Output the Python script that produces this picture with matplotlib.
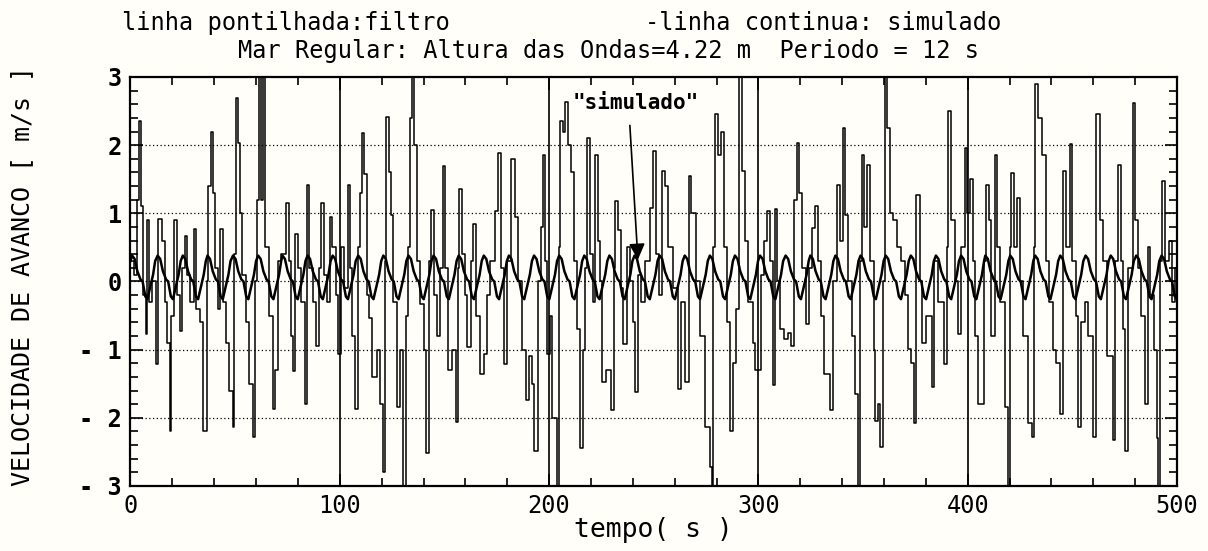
import matplotlib
matplotlib.use("Agg")
import matplotlib.pyplot as plt
from matplotlib.ticker import MultipleLocator

plt.rcParams['axes.unicode_minus'] = False

# "filtro" curve (dotted in the original), vertices
filtro_t = [
    0, 1.5, 3, 4.2, 5, 6, 7.5, 8, 9, 10.5,
    12.3, 13.2, 15, 16.5, 17.5, 18.8, 19.5, 20.8, 22, 23.5,
    24.5, 26, 27, 28.5, 30.5, 31.5, 33, 34.5, 36.5, 37,
    38.7, 39.3, 40.5, 42, 43, 44, 45.5, 47, 48.8, 49.5,
    50.5, 51.5, 52.5, 53.5, 55, 56.5, 58.5, 59.5, 60.5, 61.5,
    62.5, 63.5, 64.5, 66, 68, 69, 70.5, 72, 74.5, 75.5,
    76.5, 77.8, 78.5, 80, 81.5, 83.2, 84.5, 85.5, 87, 88.8,
    90, 91.2, 92.5, 94, 95.5, 96.5, 98, 99.2,
    100.5, 102, 104, 105, 106, 107.2, 108.5, 109.5, 110.4, 111.5,
    113, 114, 115.5, 118, 119, 120.5, 121.5, 122.3, 123.5, 124.5,
    125.5, 127.5, 129, 130.3, 131.5, 132.8, 133.6, 134.4, 135.3, 137,
    138.5, 140, 141.3, 142.5, 143.8, 145, 146.5, 148, 149.4, 150.5,
    151.8, 153.5, 155.3, 156.5, 157, 158.5, 160, 161, 162.5, 163.5,
    165, 167, 169, 170.5, 172, 174, 175.8, 177, 178.5, 180,
    182, 183.5, 185, 187, 189, 190.5, 192, 193, 194.5, 196,
    197, 198, 199,
    200.5, 201.5, 203.7, 204.5, 205.2, 206.5, 207.7, 209, 210.5, 212,
    213.5, 214.8, 216, 217.2, 218, 219.5, 221, 222, 223.5, 224.5,
    225.5, 227, 229.8, 231, 231.5, 233, 234.5, 235.5, 237, 238.5,
    240, 241.1, 242.5, 244, 246, 248, 249.8, 251, 252.5, 254,
    255.5, 257, 259, 261.8, 263, 265, 266.6, 268, 270, 272,
    274.5, 277, 277.7, 278.5, 279.3, 280.5, 282, 283.5, 285, 286.5,
    288, 289.5, 290.5, 292, 293.5, 295, 297.5, 298.5,
    301, 302.5, 304, 305.5, 307.1, 308, 309, 310.5, 312, 314,
    315.5, 317, 318.3, 319.5, 321, 322.5, 324, 325.5, 327, 328.5,
    330, 331.5, 334.2, 335.5, 337.4, 339, 340.6, 341.5, 343, 344.5,
    346, 347.7, 348.5, 349.3, 350.5, 352, 353.5, 355, 355.7, 357,
    358.1, 359.5, 360.5, 361.5, 363, 364.5, 366, 368, 370, 371.5,
    373, 374.2, 375.5, 377, 378, 380, 382.8, 384, 386, 388.5,
    390, 390.8, 392, 394, 395.5, 397, 398.5, 399.5,
    401, 402.5, 403.5, 405, 406.5, 408, 408.9, 410, 411, 412.8,
    414, 415.5, 417.6, 419.2, 420.2, 420.8, 422, 423.5, 425, 426.5,
    429, 430.5, 431.5, 432.1, 433.5, 435.5, 437.5, 439, 440.5, 442,
    444, 445.5, 447, 448.7, 450, 451.5, 452.6, 454, 456, 457.5,
    459.9, 461.5, 463, 464.5, 466.5, 469.4, 470.5, 471.8, 473, 474,
    475, 476.5, 478.9, 480, 481.5, 483, 484.5, 486, 487, 489,
    490.2, 490.8, 492, 492.6, 494, 496, 497.5, 499, 500,
]
filtro_v = [
    0.3, 0.1, 1.2, 2.35, 1.1, -0.2, -0.77, 0.9, -0.3, 0.0,
    -1.21, 0.92, 0.6, -0.3, -0.9, -2.2, -0.5, 0.9, -0.2, -0.73,
    0.2, 0.67, 0.1, -0.3, 0.77, -0.41, -0.6, -2.2, 0.0, 1.4,
    2.2, 1.3, 0.2, -0.41, 0.77, -0.3, -0.9, -1.6, -2.13, 0.4,
    2.69, 2.03, 1.0, 0.1, -0.6, -1.5, -2.28, 0.0, 1.2, 3.3,
    1.2, 3.3, 0.5, -0.5, -1.87, -1.3, 0.3, 0.4, 1.15, 0.3,
    -0.8, -1.31, 0.7, 0.2, -0.3, -1.8, 1.42, 0.2, -0.3, -0.94,
    0.2, 1.15, 0.1, -0.3, 0.94, 0.5, -0.2, -1.06,
    0.5, -0.1, 1.42, 0.2, -0.8, -1.87, 0.5, 1.3, 2.18, 1.57,
    -0.2, -0.53, -1.4, -1.0, -1.8, -2.8, 0.3, 2.42, 1.6, 0.98,
    -0.3, -1.84, -1.0, -3.3, -0.5, 0.5, 2.4, 3.3, 2.0, 0.3,
    -0.33, -1.0, -2.52, 0.3, 1.05, -0.2, -0.8, 0.2, 1.69, 0.2,
    -1.3, -1.0, -2.06, 0.2, 1.35, 0.4, -0.2, -0.96, 0.3, 0.84,
    -0.5, -1.35, -1.06, -0.2, 0.3, 1.03, 1.89, 0.2, -1.21, 0.3,
    1.79, 0.95, 0.0, -1.0, -1.74, -1.1, -1.5, -2.48, 0.0, 0.8,
    1.86, 0.3, -1.06,
    -0.5, -2.0, -3.3, 0.5, 2.35, 2.2, 2.64, 2.0, 1.6, 0.3,
    -0.7, -2.45, -1.0, 0.2, 2.1, 0.4, -0.3, 1.86, 0.6, 0.0,
    -1.48, -1.3, -1.89, 0.2, 1.18, 0.75, -0.1, -0.92, 0.5, 0.0,
    -0.6, -1.62, 0.1, -0.3, 0.3, 1.08, 1.91, 0.4, -0.2, 1.62,
    1.4, 0.5, -0.1, -1.57, -0.3, -1.48, 1.55, 1.0, 0.0, -0.8,
    -2.13, -2.72, -3.3, 0.5, 2.45, 1.86, 2.2, 0.5, -0.6, -2.2,
    -1.2, -0.4, 3.3, 1.62, 0.6, -0.3, -0.9, -1.3,
    0.1, 0.6, 1.03, 0.3, -1.52, 1.06, 0.0, -0.7, -0.85, -0.75,
    -0.95, 1.2, 2.03, 1.3, 0.2, -0.62, 0.2, 0.79, 1.1, 0.3,
    -0.5, -1.35, -1.89, 0.0, 1.42, 0.6, 2.25, 0.98, 0.0, -0.8,
    -1.65, -3.3, 0.3, 1.86, 0.8, 1.71, 0.3, -1.0, -2.04, -1.8,
    -2.43, 0.0, 3.3, 2.25, 1.0, 0.9, 0.5, 0.3, -0.2, -0.99,
    -1.2, -2.08, 1.27, 0.0, -0.9, -0.5, -1.55, 0.3, -0.3, -1.21,
    0.5, 2.5, 0.9, 0.0, -0.77, 0.5, 1.96, 1.0,
    1.5, 0.3, -0.8, -1.8, -1.8, 0.3, 1.42, 0.9, -0.8, 1.86,
    0.5, -0.3, -1.84, -3.3, 0.5, 1.59, 0.5, 1.23, 0.0, -0.8,
    -2.08, -2.28, 0.5, 2.89, 2.4, 1.86, 0.3, -0.3, -1.0, -1.2,
    -1.94, 1.62, 0.5, 2.01, 0.3, -0.5, -2.13, -0.6, -0.3, -0.8,
    -2.28, 2.45, 0.9, 0.3, -1.1, -2.33, 0.3, 1.71, 0.3, -0.7,
    -2.48, 0.2, 2.62, 0.9, 0.2, -0.5, -1.8, 0.5, -0.2, -1.0,
    -2.3, -3.3, 0.3, 1.47, 0.3, 0.6, -0.3, 0.2, 0.2,
]

# "simulado" curve: crest instants and the shape of one wave cycle
sim_peak_t = [0.8, 13.0, 25.0, 36.8, 49.0, 61.0, 72.6, 84.6, 96.6, 108.8,
              120.8, 132.8, 144.8, 156.8, 168.8, 180.8, 192.8, 204.8, 216.8,
              228.8, 240.8, 252.8, 264.8, 276.8, 288.8, 300.8, 313.0, 324.8,
              336.8, 348.8, 360.8, 372.8, 384.8, 396.8, 408.4, 420.3, 432.2,
              444.2, 456.3, 468.3, 480.5, 492.6]
cycle_dt = [0, 1.2, 2.5, 4.0, 5.0, 6.3, 7.3, 8.5, 10.0, 11.0]
cycle_v = [0.38, 0.33, 0.15, 0.03, 0.0, -0.22, -0.26, -0.1, 0.1, 0.3]

x_ticks = [0, 100, 200, 300, 400, 500]
y_ticks = [-3, -2, -1, 0, 1, 2, 3]

sim_t = [0.0]
sim_v = [0.3]
for tp in sim_peak_t:
    for dt, v in zip(cycle_dt, cycle_v):
        if tp + dt <= 500:
            sim_t.append(tp + dt)
            sim_v.append(v)

mono = 'DejaVu Sans Mono'
bg = '#fffef8'

fig = plt.figure(figsize=(12.08, 5.51), dpi=100, facecolor=bg)
ax = fig.add_axes([0.108, 0.118, 0.8664, 0.7423])
ax.set_facecolor(bg)

for gy in [-2, -1, 0, 1, 2]:
    ax.axhline(gy, color='k', lw=0.9, ls=(0, (1, 2)), zorder=1)
for gx in [100, 200, 300, 400]:
    ax.axvline(gx, color='k', lw=1.2, zorder=1)

ax.plot(filtro_t, filtro_v, color='k', lw=1.1, drawstyle='steps-post', zorder=2)
ax.plot(sim_t, sim_v, color='k', lw=1.8, zorder=3)

ax.set_xlim(0, 500)
ax.set_ylim(-3, 3)
ax.set_xticks(x_ticks)
ax.set_yticks(y_ticks)
ax.set_xticklabels([str(v) for v in x_ticks], fontfamily=mono, fontsize=17)
ax.set_yticklabels([str(v).replace('-', '- ') for v in y_ticks],
                   fontfamily=mono, fontsize=17, fontweight='bold')
ax.xaxis.set_minor_locator(MultipleLocator(20))
ax.yaxis.set_minor_locator(MultipleLocator(0.2))
ax.tick_params(which='both', direction='in', top=True, right=True, width=1.2)
ax.tick_params(which='major', length=9, pad=6)
ax.tick_params(which='minor', length=6)
for s in ax.spines.values():
    s.set_linewidth(1.6)

ax.set_xlabel("tempo( s )", fontfamily=mono, fontsize=19, labelpad=-1)
fig.text(0.018, 0.5, "VELOCIDADE DE AVANCO [ m/s ]", rotation=90,
         ha='center', va='center', fontfamily=mono, fontsize=18)

fig.text(122 / 1208, 1 - 23 / 551, "linha pontilhada:filtro",
         ha='left', va='center', fontfamily=mono, fontsize=17)
fig.text(645 / 1208, 1 - 23 / 551, "-linha continua: simulado",
         ha='left', va='center', fontfamily=mono, fontsize=17)
fig.text(608 / 1208, 1 - 51 / 551,
         "Mar Regular: Altura das Ondas=4.22 m  Periodo = 12 s",
         ha='center', va='center', fontfamily=mono, fontsize=17)

ax.text(211, 2.62, '"simulado"', fontfamily=mono, fontsize=15,
        fontweight='bold', va='center', ha='left')
ax.annotate("", xy=(242.5, 0.28), xytext=(238.5, 2.33),
            arrowprops=dict(arrowstyle='-|>', color='k', lw=1.2,
                            mutation_scale=24))

fig.savefig("out.png", dpi=100, facecolor=bg)
